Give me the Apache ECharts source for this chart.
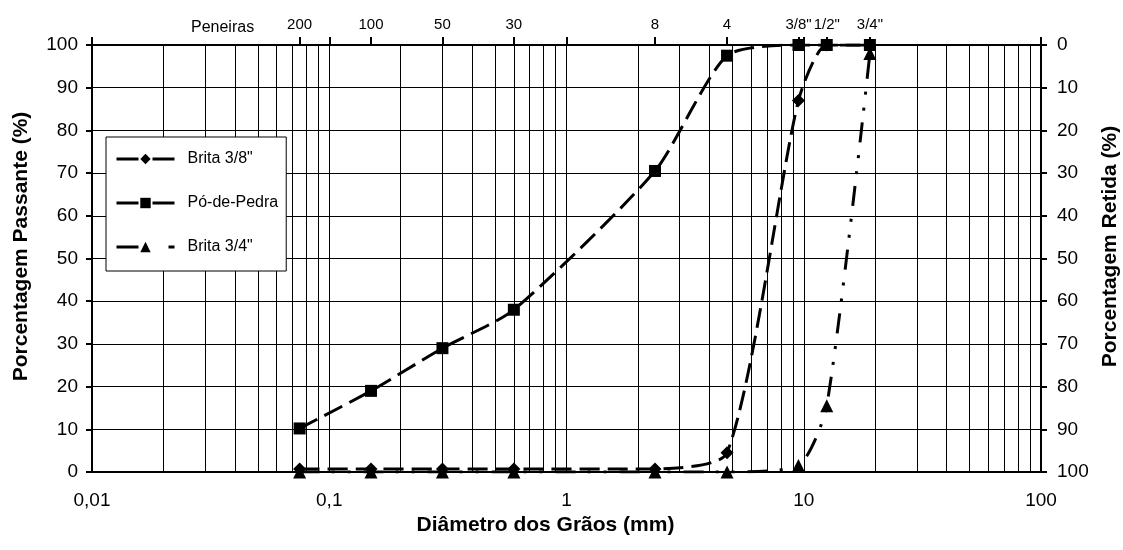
<!DOCTYPE html>
<html>
<head>
<meta charset="utf-8">
<title>Curva Granulométrica</title>
<script src="https://cdn.jsdelivr.net/npm/echarts@6/dist/echarts.min.js"></script>
<style>
  html, body { margin: 0; padding: 0; background: #fff; }
  #chart { width: 1123px; height: 550px; }
</style>
</head>
<body>
<div id="chart"></div>
<script>
// Peneiras (abertura em mm) e seus nomes
const sieveSizes  = [0.075, 0.15, 0.3, 0.6, 2.36, 4.75, 9.5, 12.5, 19];
const sieveLabels = ['200', '100', '50', '30', '8', '4', '3/8"', '1/2"', '3/4"'];

// Porcentagem passante em cada peneira
const brita38   = [0.7, 0.7, 0.7, 0.7, 0.7, 4.5, 87, 100, 100];
const poDePedra = [10.2, 19, 29, 38, 70.5, 97.5, 100, 100, 100];
const brita34   = [0, 0, 0, 0, 0, 0, 1.5, 15.5, 98];

// Rótulos do eixo dos diâmetros (log)
const xTickLabels = [0.01, 0.1, 1, 10, 100];

const FONT = "'Liberation Sans', Arial, sans-serif";

// Linhas verticais da grade logarítmica: 1..9 x cada década
const gridDiam = [];
for (let d = -2; d < 2; d++) {
  for (let m = 1; m <= 9; m++) gridDiam.push(Math.log10(m) + d);
}
gridDiam.push(2);

const sieveLog = sieveSizes.map(v => Math.log10(v));
const topTicks = sieveLog.concat([-2, -1, 0, 1, 2]);

const pairs = vals => sieveSizes.map((s, i) => [s, vals[i]]);

const chart = echarts.init(document.getElementById('chart'), null, { renderer: 'canvas' });

const axisLineStyle = { color: '#000', width: 2 };
const dashLong = [20, 8];
const dashDotDot = [20, 12, 3, 13, 3, 13];
const titleStyle = { fontFamily: FONT, fontSize: 21, fontWeight: 'bold', color: '#000' };
const SMOOTH = 0.22;

chart.setOption({
  animation: false,
  backgroundColor: '#fff',
  textStyle: { fontFamily: FONT, color: '#000' },
  title: {
    text: 'Peneiras',
    left: 186, top: 15,
    textStyle: { fontFamily: FONT, fontSize: 16, fontWeight: 'normal', color: '#000' }
  },
  grid: { left: 92, right: 82, top: 45, bottom: 78, outerBoundsMode: 'none', containLabel: false },
  legend: {
    orient: 'vertical',
    left: 106, top: 137,
    backgroundColor: '#fff',
    borderColor: '#000',
    borderWidth: 1,
    padding: [14, 8, 16, 9],
    itemWidth: 58,
    itemHeight: 13,
    itemGap: 28,
    textStyle: { fontFamily: FONT, fontSize: 16, color: '#000', padding: [0, 0, 0, 8] },
    data: [
      { name: 'Brita 3/8"', lineStyle: { type: [22, 14], width: 3 } },
      { name: 'Pó-de-Pedra', lineStyle: { type: [22, 14], width: 3 } },
      { name: 'Brita 3/4"', lineStyle: { type: [22, 30, 9, 10], width: 3 } }
    ]
  },
  xAxis: [
    {
      type: 'log', logBase: 10, min: 0.01, max: 100,
      position: 'bottom',
      name: 'Diâmetro dos Grãos (mm)',
      nameLocation: 'middle', nameGap: 40,
      nameTextStyle: Object.assign({ padding: [0, 42, 0, 0] }, titleStyle),
      axisLine: { show: true, onZero: false, lineStyle: axisLineStyle },
      axisTick: { show: false },
      axisLabel: {
        fontFamily: FONT, fontSize: 19, color: '#000', margin: 19,
        formatter: v => {
          const t = xTickLabels.find(x => Math.abs(Math.log10(x) - Math.log10(v)) < 1e-6);
          return String(t !== undefined ? t : v).replace('.', ',');
        }
      },
      splitLine: { show: false }
    },
    {
      // Eixo superior: posição das peneiras
      type: 'value', min: -2, max: 2,
      position: 'top',
      axisLine: { show: true, onZero: false, lineStyle: axisLineStyle },
      axisTick: { show: true, inside: false, length: 8, customValues: topTicks, lineStyle: { color: '#000', width: 2 } },
      axisLabel: {
        fontFamily: FONT, fontSize: 15, color: '#000', margin: 13,
        customValues: sieveLog,
        formatter: v => {
          const i = sieveLog.findIndex(x => Math.abs(x - v) < 1e-6);
          return i >= 0 ? sieveLabels[i] : '';
        }
      },
      splitLine: { show: false }
    },
    {
      // Grade vertical logarítmica
      type: 'value', min: -2, max: 2,
      position: 'bottom',
      axisLine: { show: false, onZero: false },
      axisTick: { show: false, customValues: gridDiam },
      axisLabel: { show: false },
      splitLine: { show: true, lineStyle: { color: '#000', width: 1 } }
    }
  ],
  yAxis: [
    {
      type: 'value', min: 0, max: 100, interval: 10,
      position: 'left',
      name: 'Porcentagem Passante (%)',
      nameLocation: 'middle', nameGap: 60, nameRotate: 90,
      nameTextStyle: Object.assign({ padding: [0, 0, 0, 24] }, titleStyle),
      axisLine: { show: true, onZero: false, lineStyle: axisLineStyle },
      axisTick: { show: true, inside: false, length: 6, lineStyle: { color: '#000', width: 2 } },
      axisLabel: { fontFamily: FONT, fontSize: 19, color: '#000', margin: 14 },
      splitLine: { show: true, lineStyle: { color: '#000', width: 1 } }
    },
    {
      type: 'value', min: 0, max: 100, interval: 10, inverse: true,
      position: 'right',
      name: 'Porcentagem Retida (%)',
      nameLocation: 'middle', nameGap: 56, nameRotate: 90,
      nameTextStyle: Object.assign({ padding: [0, 0, 0, 24] }, titleStyle),
      axisLine: { show: true, onZero: false, lineStyle: axisLineStyle },
      axisTick: { show: true, inside: false, length: 6, lineStyle: { color: '#000', width: 2 } },
      axisLabel: { fontFamily: FONT, fontSize: 19, color: '#000', margin: 16 },
      splitLine: { show: false }
    }
  ],
  series: [
    {
      name: 'Brita 3/8"', type: 'line', xAxisIndex: 0, yAxisIndex: 0,
      data: pairs(brita38), smooth: SMOOTH, smoothConstraint: false,
      symbol: 'diamond', symbolSize: 13,
      itemStyle: { color: '#000' },
      lineStyle: { color: '#000', width: 3, type: dashLong, cap: 'butt' },
      z: 3
    },
    {
      name: 'Pó-de-Pedra', type: 'line', xAxisIndex: 0, yAxisIndex: 0,
      data: pairs(poDePedra), smooth: SMOOTH, smoothConstraint: false,
      symbol: 'rect', symbolSize: 12,
      itemStyle: { color: '#000' },
      lineStyle: { color: '#000', width: 3, type: dashLong, cap: 'butt' },
      z: 4
    },
    {
      name: 'Brita 3/4"', type: 'line', xAxisIndex: 0, yAxisIndex: 0,
      data: pairs(brita34), smooth: SMOOTH, smoothConstraint: false,
      symbol: 'triangle', symbolSize: 13,
      itemStyle: { color: '#000' },
      lineStyle: { color: '#000', width: 3, type: dashDotDot, cap: 'butt' },
      z: 5
    }
  ]
});
</script>
</body>
</html>
